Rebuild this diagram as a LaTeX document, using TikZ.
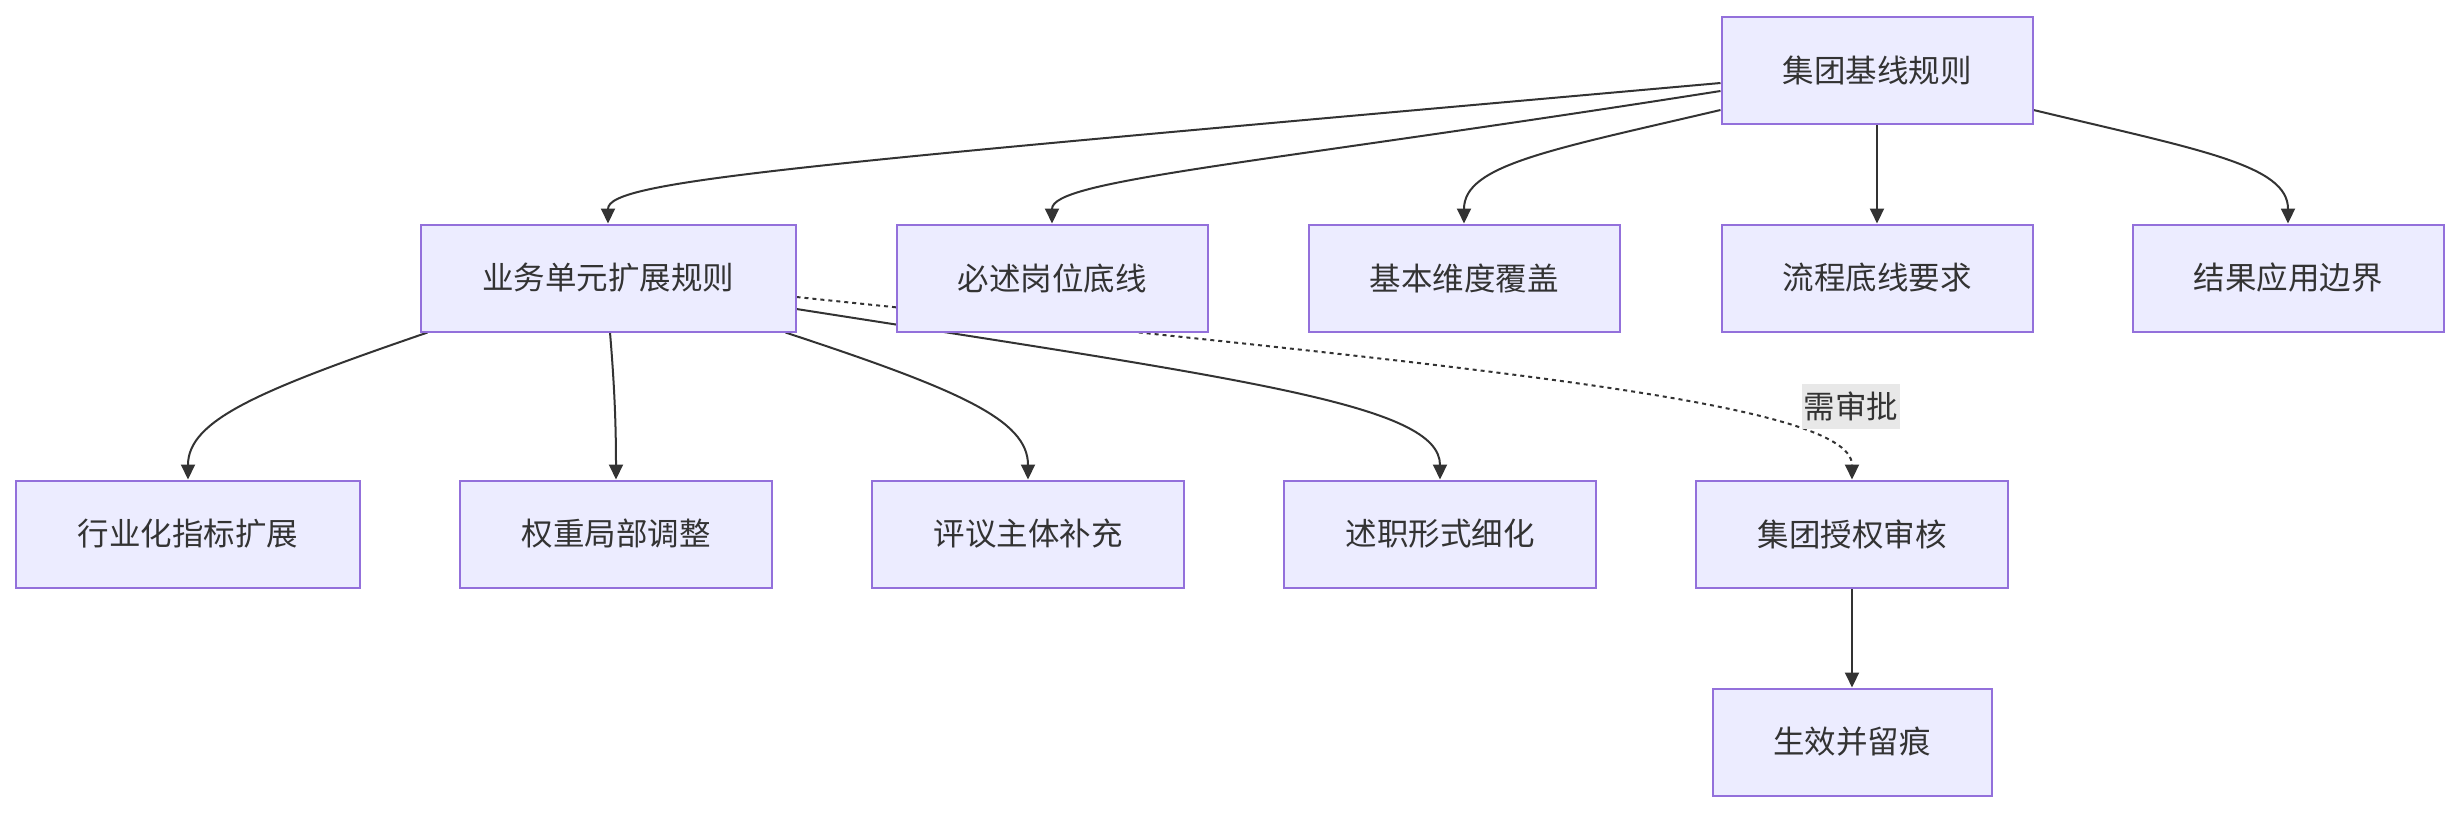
\documentclass[tikz,border=0pt]{standalone}
\usepackage{fontspec}
\setmainfont{Noto Sans CJK SC}
\usetikzlibrary{arrows.meta,calc}
\definecolor{nodefill}{HTML}{ECECFF}
\definecolor{nodeborder}{HTML}{9370DB}
\definecolor{ink}{HTML}{333333}
\definecolor{labelbg}{HTML}{E8E8E8}
\pgfdeclarelayer{bg}
\pgfsetlayers{bg,main}
\begin{document}
\begin{tikzpicture}[x=1pt,y=-1pt,
  box/.style={draw=nodeborder, fill=nodefill, line width=2pt, minimum height=107pt,
    text=ink, font=\fontsize{31.5}{36}\selectfont, inner sep=0pt},
  link/.style={draw=ink, line width=2pt, -{Triangle[length=15pt,width=14pt]}},
  dotlink/.style={link, dash pattern=on 4pt off 4pt},
  lbl/.style={fill=labelbg, text=ink, font=\fontsize{31.5}{36}\selectfont, inner xsep=2pt, inner ysep=0pt, minimum height=45pt}]
\useasboundingbox (0,0) rectangle (2460,812);
% nodes
\node[box, minimum width=311pt] (A) at (1877,70) {集团基线规则};
\node[box, minimum width=375pt] (B) at (608,278) {业务单元扩展规则};
\node[box, minimum width=311pt] (C) at (1052,278) {必述岗位底线};
\node[box, minimum width=311pt] (D) at (1464,278) {基本维度覆盖};
\node[box, minimum width=311pt] (E) at (1877,278) {流程底线要求};
\node[box, minimum width=311pt] (F) at (2288,278) {结果应用边界};
\node[box, minimum width=344pt] (G) at (188,534) {行业化指标扩展};
\node[box, minimum width=312pt] (H) at (616,534) {权重局部调整};
\node[box, minimum width=312pt] (I) at (1028,534) {评议主体补充};
\node[box, minimum width=312pt] (J) at (1440,534) {述职形式细化};
\node[box, minimum width=312pt] (K) at (1852,534) {集团授权审核};
\node[box, minimum width=279pt] (L) at (1852,742) {生效并留痕};
% edges
\begin{pgfonlayer}{bg}
\draw[link] ($(A.west)+(0,13)$) .. controls (800,165) and (608,180) .. (B.north);
\draw[link] ($(A.west)+(0,21)$) .. controls (1250,165) and (1052,180) .. (C.north);
\draw[link] ($(A.west)+(0,40)$) .. controls (1550,150) and (1464,165) .. (D.north);
\draw[link] (A.south) -- (E.north);
\draw[link] ($(A.east)+(0,40)$) .. controls (2200,150) and (2288,165) .. (F.north);
\draw[link] ($(B.south west)+(8,0)$) .. controls (260,390) and (188,420) .. (G.north);
\draw[link] ($(B.south)+(2,0)$) .. controls (614,380) and (616,420) .. (H.north);
\draw[link] ($(B.south east)+(-11,0)$) .. controls (960,390) and (1028,420) .. (I.north);
\draw[link] ($(B.east)+(0,31)$) .. controls (1250,380) and (1440,405) .. (J.north);
\draw[dotlink] ($(B.east)+(0,19)$) .. controls (1450,365) and (1852,400) .. (K.north);
\draw[link] (K.south) -- (L.north);
\end{pgfonlayer}
\node[lbl] (lab) at (1851,406) {需审批};
\end{tikzpicture}
\end{document}
